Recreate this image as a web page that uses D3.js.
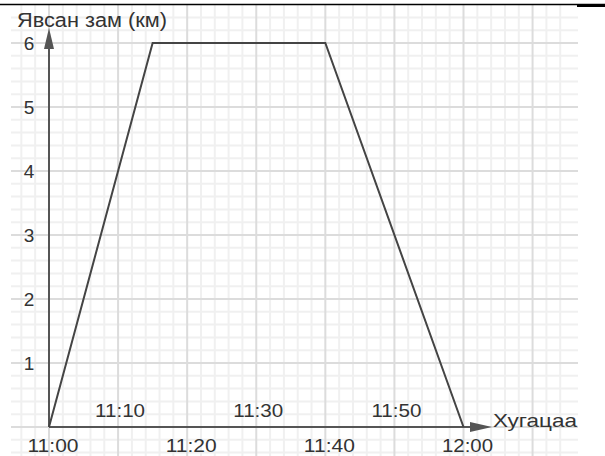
<!DOCTYPE html>
<meta charset="utf-8">
<style>
body { margin: 0; background: #fff; }
text { font-family: "Liberation Sans", Arial, sans-serif; fill: #333; }
</style>
<svg width="605" height="456"></svg>
<script src="https://d3js.org/d3.v7.min.js"></script>
<script>

// data: minutes after 11:00 -> distance (km)
var minutes = [0, 15, 40, 60];
var distance = [0, 6, 6, 0];
var yTicks = [1, 2, 3, 4, 5, 6];
var lowTicks = ["11:00", "11:20", "11:40", "12:00"];
var lowMins = [0, 20, 40, 60];
var highTicks = ["11:10", "11:30", "11:50"];
var highMins = [10, 30, 50];

var svg = d3.select("svg");

var x = d3.scaleLinear().domain([0, 60]).range([49, 463.5]);
var y = d3.scaleLinear().domain([0, 6]).range([427, 43]);

var gridL = 11, gridR = 578, gridT = 5, gridB = 456;

// grid
var grid = svg.append("g");
var minorX = d3.range(-6, 76, 2), minorY = d3.range(-0.6, 6.8, 0.2);
grid.selectAll(".vx").data(minorX).enter().append("line")
    .attr("x1", d => x(d)).attr("x2", d => x(d))
    .attr("y1", gridT).attr("y2", gridB)
    .attr("stroke", d => d % 10 == 0 ? "#dcdcdc" : "#f0f0f0")
    .attr("stroke-width", 2)
    .filter(d => x(d) < gridL || x(d) > gridR).remove();
grid.selectAll(".hy").data(minorY).enter().append("line")
    .attr("y1", d => y(d)).attr("y2", d => y(d))
    .attr("x1", gridL).attr("x2", gridR)
    .attr("stroke", d => Math.abs(d - Math.round(d)) < 0.01 ? "#dcdcdc" : "#f0f0f0")
    .attr("stroke-width", 2)
    .filter(d => y(d) < gridT || y(d) > gridB).remove();
// redraw majors on top of minors
grid.selectAll("line").filter(function() { return d3.select(this).attr("stroke") == "#dcdcdc"; }).raise();

// top rule
svg.append("line").attr("x1", 0).attr("x2", 605).attr("y1", 4.5).attr("y2", 4.5)
    .attr("stroke", "#000").attr("stroke-width", 1.5);
svg.append("line").attr("x1", 577).attr("x2", 605).attr("y1", 5.5).attr("y2", 5.5)
    .attr("stroke", "#000").attr("stroke-width", 3);

// axes
var axisCol = "#555";
svg.append("line").attr("x1", x(0)).attr("x2", x(0)).attr("y1", y(0)).attr("y2", 40)
    .attr("stroke", axisCol).attr("stroke-width", 2);
svg.append("path").attr("d", d3.line()([[x(0), 28], [x(0) - 5, 49], [x(0) + 5, 49]]))
    .attr("fill", axisCol);
svg.append("line").attr("x1", x(0)).attr("x2", 480).attr("y1", y(0)).attr("y2", y(0))
    .attr("stroke", axisCol).attr("stroke-width", 2);
svg.append("path").attr("d", d3.line()([[492, y(0)], [470, y(0) - 5], [470, y(0) + 5]]))
    .attr("fill", axisCol);

// data line
svg.append("path")
    .datum(minutes.map((m, i) => [m, distance[i]]))
    .attr("d", d3.line().x(d => x(d[0])).y(d => y(d[1])))
    .attr("fill", "none").attr("stroke", "#444").attr("stroke-width", 2);

// y tick labels
svg.selectAll(".yl").data(yTicks).enter().append("text")
    .attr("x", 29).attr("y", d => y(d) + 7)
    .attr("text-anchor", "middle").style("font-size", "19px")
    .text(d => d);

svg.selectAll(".xl").data(lowTicks).enter().append("text")
    .attr("x", (d, i) => x(lowMins[i]) + 4).attr("y", 452)
    .attr("text-anchor", "middle").style("font-size", "19px")
    .attr("textLength", 51).attr("lengthAdjust", "spacingAndGlyphs")
    .text(d => d);
svg.selectAll(".xh").data(highTicks).enter().append("text")
    .attr("x", (d, i) => x(highMins[i]) + 2).attr("y", 417)
    .attr("text-anchor", "middle").style("font-size", "19px")
    .attr("textLength", 50).attr("lengthAdjust", "spacingAndGlyphs")
    .text(d => d);

// axis titles
svg.append("text").attr("x", 17).attr("y", 27).style("font-size", "20px")
    .attr("textLength", 150).attr("lengthAdjust", "spacingAndGlyphs")
    .text("Явсан зам (км)");
svg.append("text").attr("x", 493).attr("y", 427).style("font-size", "19px")
    .attr("textLength", 84).attr("lengthAdjust", "spacingAndGlyphs")
    .text("Хугацаа");

</script>
